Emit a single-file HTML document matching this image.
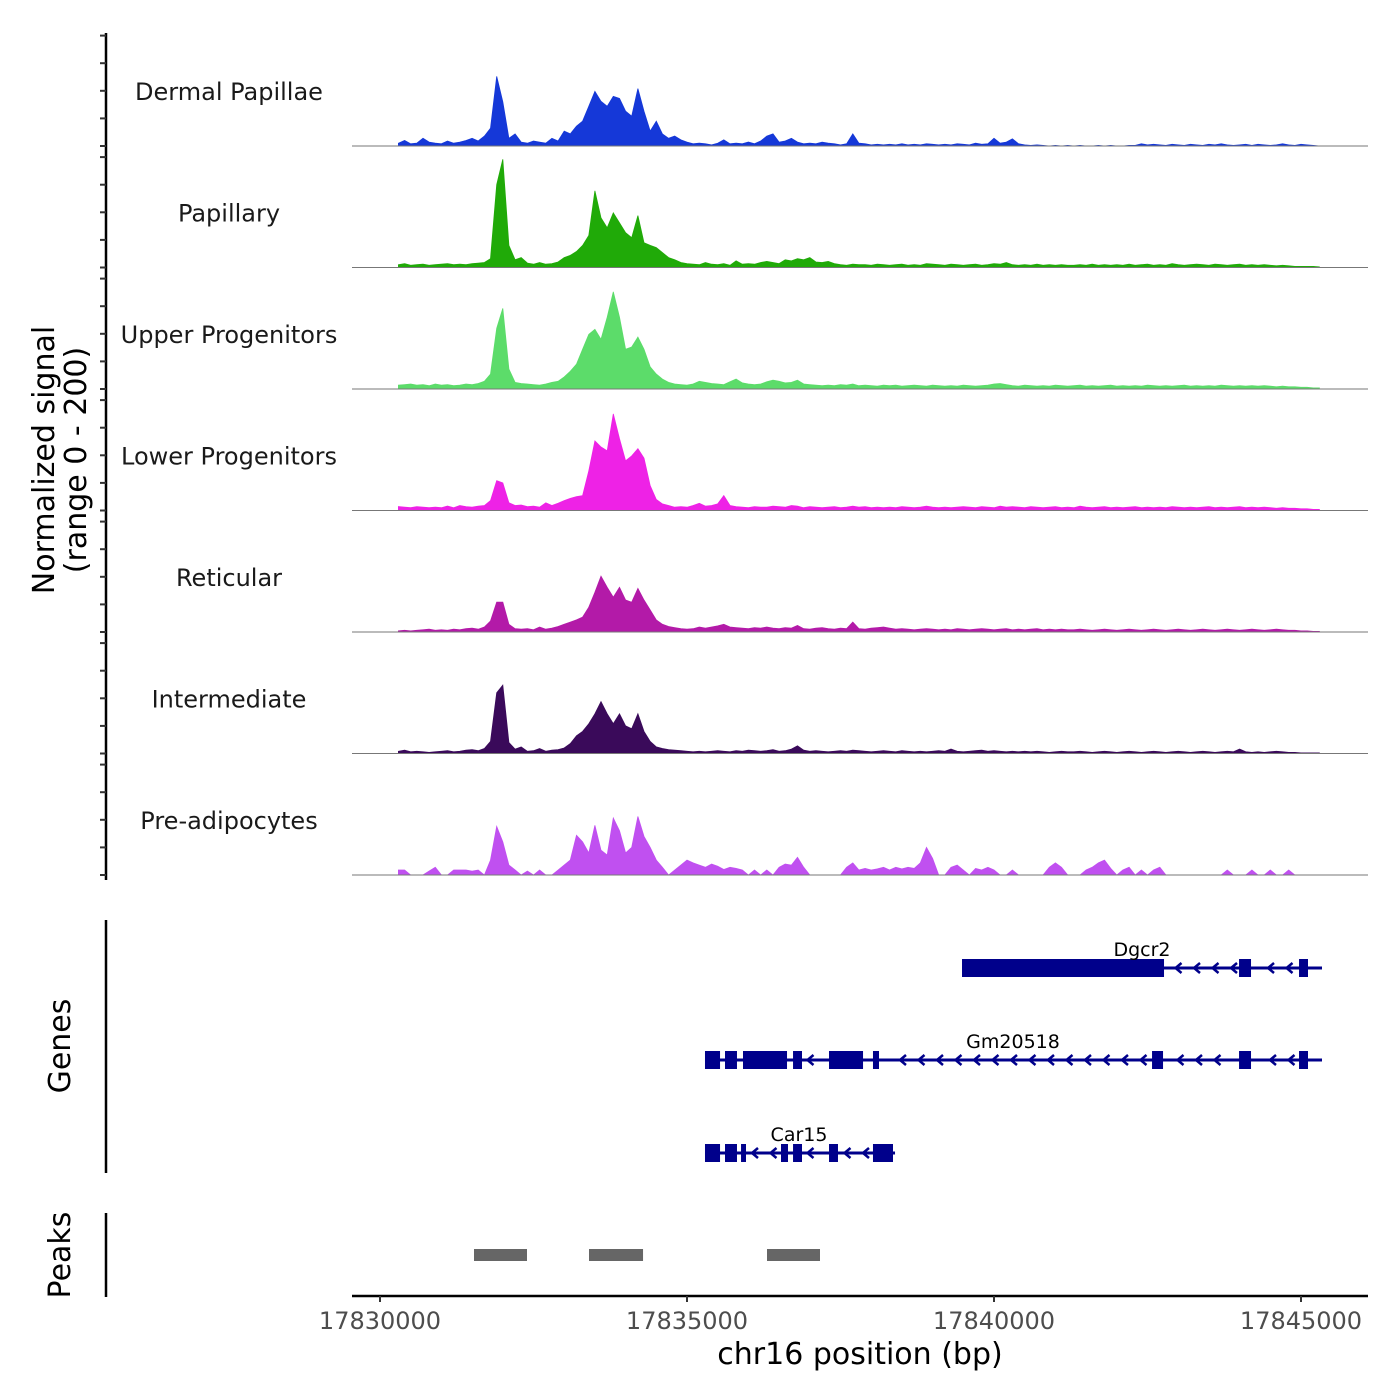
<!DOCTYPE html>
<html><head><meta charset="utf-8"><style>
body{margin:0;background:#fff}
svg{display:block;font-family:"DejaVu Sans","Liberation Sans",sans-serif}
</style></head><body>
<svg id="chart" width="1400" height="1400" viewBox="0 0 1400 1400"></svg>
<script>
const binStart = 17830300, binSize = 100;
const trackNames = ["Dermal Papillae","Papillary","Upper Progenitors","Lower Progenitors","Reticular","Intermediate","Pre-adipocytes"];
const trackColors = ["#1538d8","#20aa08","#5cdc6a","#ee22e6","#b31aa8","#3a0a5a","#c050f0"];
const dermalPapillae = [5,10,4,5,14,7,5,4,9,5, 7,10,14,9,18,32,126,80,14,22, 7,5,9,7,5,14,9,27,22,36, 45,72,99,81,72,90,86,63,54,104, 63,27,45,22,14,18,11,7,4,5, 4,2,5,11,4,5,4,7,4,9, 18,22,7,9,14,7,4,5,4,7, 5,4,2,4,22,5,4,2,3,2, 3,2,4,2,3,2,4,3,2,3, 2,4,3,2,5,3,4,14,5,7, 13,4,2,1,2,1,0,1,0,1, 0,1,0,0,1,0,1,0,0,1, 1,4,2,3,2,1,3,2,1,3, 2,1,3,2,4,2,1,2,3,1, 3,2,1,2,4,2,1,3,2,1, 0];
const papillary = [5,7,4,5,6,4,5,6,7,5, 6,5,7,8,9,16,150,196,40,14, 18,8,6,9,6,7,10,18,22,29, 40,58,139,90,72,99,81,63,54,94, 45,40,36,27,18,14,9,7,6,5, 9,6,5,7,4,12,6,7,6,9, 11,9,7,14,12,16,14,18,10,9, 11,7,5,4,6,5,5,4,6,5, 4,5,6,4,5,4,7,6,5,4, 6,5,4,5,6,4,5,7,6,9, 5,4,5,4,6,4,5,4,5,4, 4,5,4,6,4,5,4,5,4,6, 4,5,6,4,5,4,7,5,4,5, 6,5,4,6,5,4,5,6,4,5, 4,5,4,3,4,3,2,2,2,2, 1];
const upperProgenitors = [7,8,9,7,8,6,9,7,8,6, 7,9,8,10,14,27,110,146,36,12, 10,9,8,7,9,12,14,22,32,45, 72,99,108,90,130,176,130,72,76,94, 72,40,27,18,12,9,8,7,9,14, 12,10,9,8,13,18,11,9,8,9, 13,16,14,11,12,16,9,8,7,6, 7,6,8,7,9,6,7,6,5,7, 6,7,5,6,7,6,5,7,6,5, 6,5,7,6,5,6,7,9,10,8, 6,5,7,6,5,6,5,7,6,5, 6,7,5,6,5,6,7,5,6,5, 6,5,7,6,5,6,5,6,7,5, 6,5,6,5,7,6,5,6,5,6, 5,6,5,4,5,4,4,3,3,2, 2];
const lowerProgenitors = [7,6,5,7,6,5,6,5,8,5, 9,7,6,8,9,18,54,50,14,9, 10,7,8,6,14,9,13,18,22,25, 27,72,126,115,108,175,130,90,99,112, 95,45,20,12,9,6,7,6,9,13, 8,9,12,27,9,7,6,5,7,6, 6,8,7,6,9,8,5,7,6,5, 6,7,5,6,8,6,7,5,6,5, 6,5,7,6,5,6,8,6,5,6, 5,6,7,6,5,7,6,5,8,6, 7,6,5,7,6,5,6,7,5,6, 5,8,6,5,6,7,5,6,5,6, 7,5,6,5,6,5,7,6,5,6, 5,6,7,5,6,5,6,7,5,6, 5,6,5,4,5,4,4,3,3,2, 2];
const reticular = [2,3,2,3,4,5,3,4,3,5, 4,6,7,5,9,20,54,54,14,6, 5,6,4,9,5,7,10,14,18,22, 27,45,72,101,81,63,81,58,54,79, 58,40,22,14,10,8,6,5,6,9, 7,9,11,14,9,8,7,6,8,7, 9,7,6,8,7,12,6,5,7,8, 6,5,7,6,18,6,5,7,8,9, 7,5,6,5,4,5,6,5,4,5, 4,6,5,4,5,6,5,4,5,6, 4,5,4,5,6,4,5,4,5,4, 4,5,4,3,4,5,4,3,4,5, 4,3,4,5,4,3,4,5,4,3, 4,5,4,3,4,5,4,3,4,5, 4,3,4,5,4,3,3,2,2,1, 1];
const intermediate = [4,6,3,4,3,2,3,4,5,3, 4,6,7,5,9,22,110,124,20,8, 12,4,5,9,4,6,7,10,18,32, 40,54,72,94,72,54,72,50,45,72, 40,22,12,9,7,6,5,4,3,4, 3,4,5,4,3,5,4,6,5,4, 5,7,4,5,8,14,6,4,5,4, 3,4,5,4,6,5,4,3,4,5, 4,3,5,4,3,4,3,4,5,4, 8,4,3,4,5,6,4,5,4,3, 4,3,4,3,4,3,2,3,4,3, 3,4,3,2,3,4,3,2,3,4, 3,2,3,4,3,2,3,4,3,2, 3,4,3,2,3,4,3,8,3,2, 3,2,3,4,3,2,2,1,1,1, 1];
const preAdipocytes = [9,9,0,0,0,7,14,0,0,9, 9,9,7,9,0,27,88,60,18,9, 0,7,0,9,0,0,9,18,27,72, 60,40,90,45,36,103,80,40,50,106, 70,50,27,14,0,9,18,27,22,18, 14,20,16,10,14,12,9,0,9,0, 9,0,14,20,18,32,14,0,0,0, 0,0,0,14,22,9,12,9,11,14, 9,14,11,14,12,22,50,30,0,0, 14,18,9,0,12,9,14,9,0,0, 9,0,0,0,0,0,14,22,14,0, 0,0,9,14,22,27,12,0,9,14, 0,9,0,9,14,0,0,0,0,0, 0,0,0,0,0,9,0,0,0,9, 0,0,9,0,0,9,0,0,0,0, 0];
const trackValues = [dermalPapillae,papillary,upperProgenitors,lowerProgenitors,reticular,intermediate,preAdipocytes];

const geneNames = ["Dgcr2","Gm20518","Car15"];
const geneStarts = [17839479,17835293,17835293];
const geneEnds = [17845342,17845342,17838388];
const geneExonStarts = [[17839479,17843991,17844968],[17835293,17835619,17835912,17836727,17837313,17838029,17842574,17843991,17844968],[17835293,17835619,17835880,17836531,17836727,17837313,17838029]];
const geneExonEnds = [[17842769,17844186,17845114],[17835538,17835814,17836629,17836873,17837867,17838127,17842753,17844186,17845114],[17835538,17835814,17835961,17836645,17836873,17837459,17838355]];
const peakStarts = [17831531,17833404,17836303];
const peakEnds = [17832394,17834284,17837166];
const xTicks = [17830000,17835000,17840000,17845000];

const svg = document.getElementById('chart');
const NS = 'http://www.w3.org/2000/svg';
function mk(tag, attrs, parent){const e=document.createElementNS(NS,tag);for(const k in attrs)e.setAttribute(k,attrs[k]);(parent||svg).appendChild(e);return e;}
const xS = bp => 380 + (bp - 17830000) * 307 / 5000;
const yMax = 200, trackH = 110.4;
const baselines = [146,267.5,389,510.5,632,753.5,875];

let ax = mk('line',{x1:106,x2:106,y1:33,y2:880,stroke:'#000','stroke-width':2.5});
 
baselines.forEach(b=>{for(let k=0;k<5;k++){const y=b-k*trackH/4;const t=mk('line',{x1:100,x2:106,y1:y,y2:y,stroke:'#333','stroke-width':2});}});
let yt = mk('text',{x:0,y:0,'font-size':30,'text-anchor':'middle',fill:'#000',transform:'translate(52,460) rotate(-90)'});
 
const ts1=mk('tspan',{x:0,dy:2},yt); ts1.textContent='Normalized signal';
const ts2=mk('tspan',{x:0,dy:32},yt); ts2.textContent='(range 0 - 200)';

trackValues.forEach((vals,ti)=>{
  const b = baselines[ti];
  const g = mk('g',{});
  
  
  let d = 'M'+xS(binStart)+','+b;
  vals.forEach((v,i)=>{d+=' L'+xS(binStart+i*binSize).toFixed(1)+','+(b - v/yMax*trackH).toFixed(1);});
  d += ' L'+xS(binStart+(vals.length-1)*binSize)+','+b+' Z';
  const p = mk('path',{d:d,fill:trackColors[ti],stroke:trackColors[ti],'stroke-width':0.8},g);
   
  const bl = mk('line',{x1:352,x2:1368,y1:b,y2:b,stroke:'#777','stroke-width':1},g);
   
  const lab = mk('text',{x:229,y:b-46,'font-size':24,'text-anchor':'middle',fill:'#1a1a1a'},g);
   
  lab.textContent = trackNames[ti];
});

let ga = mk('line',{x1:106,x2:106,y1:920,y2:1173,stroke:'#000','stroke-width':2.5});
 
let gt = mk('text',{x:0,y:0,'font-size':30,'text-anchor':'middle',transform:'translate(70,1046) rotate(-90)'});
  gt.textContent='Genes';
const geneY=[968,1060,1153], labelX=[1142,1013,799];
geneNames.forEach((n,gi)=>{
  const y=geneY[gi]; const g=mk('g',{fill:'#00008b',stroke:'#00008b'});
   
  const x0=xS(geneStarts[gi]), x1=xS(geneEnds[gi]);
  const ln=mk('line',{x1:x0,x2:x1,y1:y,y2:y,'stroke-width':3},g);
   
  const es=geneExonStarts[gi], ee=geneExonEnds[gi];
  for(let ax2=x0+12; ax2<x1-4; ax2+=18.5){
    let inside=false; es.forEach((s,k)=>{if(ax2>xS(s)-6&&ax2<xS(ee[k])+6)inside=true;});
    if(inside)continue;
    const a=mk('path',{d:`M${ax2+4},${y-5} L${ax2-2},${y} L${ax2+4},${y+5}`,fill:'none','stroke-width':2.5},g);
     
  }
  es.forEach((s,k)=>{
    const r=mk('rect',{x:xS(s),y:y-9,width:Math.max(2,xS(ee[k])-xS(s)),height:18,stroke:'none'},g);
     
  });
  const tl=mk('text',{x:labelX[gi],y:y-12,'font-size':19,'text-anchor':'middle',fill:'#000',stroke:'none'},g);
    tl.textContent=n;
});

let pa = mk('line',{x1:106,x2:106,y1:1213,y2:1297,stroke:'#000','stroke-width':2.5});
 
let pt = mk('text',{x:0,y:0,'font-size':30,'text-anchor':'middle',transform:'translate(70,1255) rotate(-90)'});
  pt.textContent='Peaks';
peakStarts.forEach((s,i)=>{
  const r=mk('rect',{x:xS(s),y:1249,width:xS(peakEnds[i])-xS(s),height:12,fill:'#666'});
   
});

let xa = mk('line',{x1:352,x2:1368,y1:1296,y2:1296,stroke:'#000','stroke-width':2.5});
 
xTicks.forEach(t=>{
  const tk=mk('line',{x1:xS(t),x2:xS(t),y1:1296,y2:1302,stroke:'#333','stroke-width':2});
   
  const tl=mk('text',{x:xS(t),y:1329,'font-size':24,'text-anchor':'middle',fill:'#4d4d4d'});
    tl.textContent=t;
});
let xt = mk('text',{x:860,y:1364,'font-size':30,'text-anchor':'middle',fill:'#000'});
  xt.textContent='chr16 position (bp)';
</script>
</body></html>
